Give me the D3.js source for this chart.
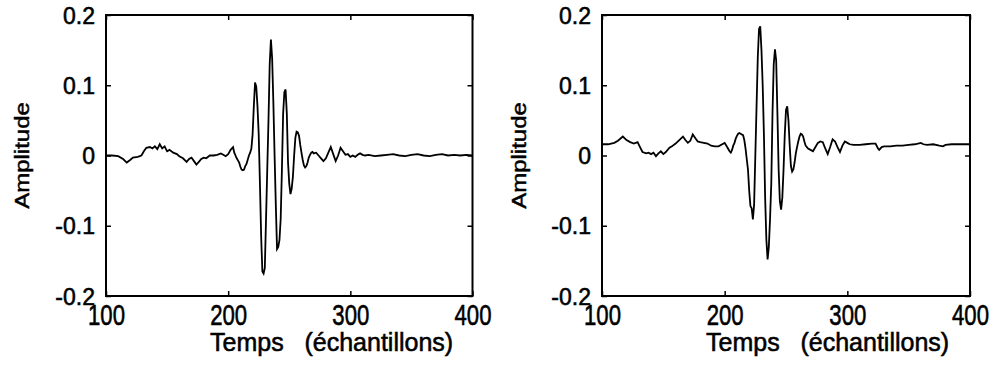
<!DOCTYPE html>
<html>
<head>
<meta charset="utf-8">
<script src="https://cdn.jsdelivr.net/npm/d3@7"></script>
<style>
html,body{margin:0;padding:0;background:#fff;}
svg{display:block;}
text{font-family:"Liberation Sans",Arial,sans-serif;fill:#000;stroke:#000;stroke-width:0.55px;}
</style>
</head>
<body>
<svg id="chart" width="993" height="368"></svg>
<script>
// ---- data ----
const xTicks = [100, 200, 300, 400];
const xTickLabels = ["100", "200", "300", "400"];
const yTicks = [-0.2, -0.1, 0, 0.1, 0.2];
const yTickLabels = ["-0.2", "-0.1", "0", "0.1", "0.2"];
const xLabel = "Temps   (échantillons)";
const yLabel = "Amplitude";

const samplesLeft = [100,105,110,114,117,120,122,126,129,131,133,136,138,140,142,144,146,148,150,152,155,158,160,163,166,168,170,172,174,176,178,180,182,185,188,191,194,196,198,200,202,204,205,206,207,208,209,210,211,212,213,214,215,216,217,218,219,220,221,222,223,224,225,226,227,228,229,230,231,232,233,234,235,236,237,238,239,240,241,242,243,244,245,246,247,248,249,250,251,252,253,254,255,256,257,258,259,260,261,262,263,264,265,266,267,268,269,270,272,274,276,278,280,282,284,286,288,290,292,294,296,298,300,302,304,306,308,310,312,315,320,325,330,335,340,345,350,355,360,365,370,375,380,385,390,395,400];
const ampLeft = [0,0,-0.001,-0.005,-0.01,-0.006,-0.003,-0.002,0,0.006,0.011,0.012,0.01,0.013,0.009,0.016,0.01,0.013,0.006,0.008,0.004,0.002,-0.001,-0.004,-0.009,-0.005,-0.003,-0.008,-0.013,-0.009,-0.005,-0.003,-0.004,0,0,0.001,0.003,0.001,-0.001,0.002,0.008,0.012,0.004,0,-0.004,-0.007,-0.01,-0.016,-0.02,-0.021,-0.02,-0.015,-0.012,-0.006,0,0.004,0.01,0.03,0.07,0.104,0.098,0.07,0.03,-0.04,-0.115,-0.165,-0.168,-0.16,-0.09,-0.02,0.05,0.13,0.165,0.138,0.075,0,-0.07,-0.133,-0.13,-0.12,-0.09,-0.02,0.06,0.09,0.094,0.06,-0.01,-0.04,-0.055,-0.047,-0.03,0,0.025,0.034,0.033,0.028,0.015,0.004,-0.006,-0.014,-0.017,-0.015,-0.01,-0.003,0.001,0.004,0.005,0.003,0.004,0,-0.004,-0.008,-0.004,0.004,0.012,0.002,-0.008,0,0.011,0.006,0.001,0.002,-0.002,0,-0.002,0.001,0.003,0.001,0,0.001,-0.001,0,0.001,0.002,0,-0.001,0.001,0.002,0,-0.001,0.001,0.002,0,0.001,0,0.001,0];

const samplesRight = [100,105,110,113,117,120,123,126,129,131,133,136,138,140,142,144,146,148,150,152,155,157,160,163,166,168,170,172,174,176,178,180,183,186,189,192,195,198,200,202,204,205,206,207,208,209,210,211,212,213,214,215,216,217,218,219,220,221,222,223,224,225,226,227,228,229,230,231,232,233,234,235,236,237,238,239,240,241,242,243,244,245,246,247,248,249,250,251,252,253,254,255,256,257,258,259,260,261,262,263,264,265,266,268,270,272,274,276,278,280,282,284,286,288,290,292,294,296,298,300,302,305,310,315,320,323,325,326,328,330,335,340,345,350,355,360,362,365,370,375,378,380,385,390,395,400];
const ampRight = [0.016,0.016,0.018,0.021,0.027,0.022,0.019,0.017,0.019,0.012,0.005,0.003,0.004,0.002,0.004,-0.001,0.003,0.006,0.002,0.005,0.011,0.013,0.017,0.022,0.027,0.022,0.018,0.021,0.03,0.025,0.02,0.019,0.018,0.017,0.014,0.013,0.013,0.016,0.018,0.012,0.006,0.004,0.008,0.014,0.018,0.024,0.028,0.031,0.032,0.031,0.03,0.029,0.022,0.01,-0.005,-0.02,-0.05,-0.072,-0.075,-0.091,-0.07,0,0.07,0.14,0.18,0.184,0.15,0.1,0.03,-0.06,-0.12,-0.148,-0.13,-0.09,-0.04,0.06,0.13,0.151,0.135,0.06,-0.02,-0.065,-0.077,-0.06,-0.02,0.03,0.065,0.07,0.05,0.015,-0.015,-0.023,-0.02,-0.01,0.003,0.012,0.02,0.027,0.031,0.03,0.027,0.02,0.014,0.01,0.008,0.006,0.012,0.018,0.02,0.019,0.01,0.002,0.012,0.023,0.02,0.012,0.005,0.014,0.02,0.018,0.016,0.015,0.015,0.016,0.017,0.017,0.01,0.008,0.012,0.013,0.013,0.014,0.014,0.015,0.016,0.018,0.016,0.015,0.016,0.014,0.013,0.015,0.016,0.016,0.016,0.016];

// ---- drawing ----
const svg = d3.select("#chart");
svg.append("rect").attr("width", 993).attr("height", 368).attr("fill", "#fff");

const panels = [
  {left: 106, right: 472.5, samples: samplesLeft, amps: ampLeft, ylabX: 22},
  {left: 602, right: 970, samples: samplesRight, amps: ampRight, ylabX: 519}
];
const plotTop = 15, plotBottom = 296;

panels.forEach(p => {
  const x = d3.scaleLinear().domain([100, 400]).range([p.left, p.right]);
  const y = d3.scaleLinear().domain([-0.2, 0.2]).range([plotBottom, plotTop]);
  const g = svg.append("g");

  // signal
  const pts = p.samples.map((s, i) => [s, p.amps[i]]);
  g.append("path")
    .datum(pts)
    .attr("d", d3.line().x(d => x(d[0])).y(d => y(d[1])))
    .attr("fill", "none")
    .attr("stroke", "#000")
    .attr("stroke-width", 1.8)
    .attr("stroke-linejoin", "miter");

  // axes (ticks inward on all four sides)
  const axB = g.append("g").attr("transform", `translate(0,${plotBottom})`)
    .call(d3.axisBottom(x).tickValues(xTicks).tickSizeInner(-5).tickSizeOuter(0)
      .tickFormat((d, i) => xTickLabels[i]));
  const axT = g.append("g").attr("transform", `translate(0,${plotTop})`)
    .call(d3.axisTop(x).tickValues(xTicks).tickSizeInner(-5).tickSizeOuter(0).tickFormat(""));
  const axL = g.append("g").attr("transform", `translate(${p.left},0)`)
    .call(d3.axisLeft(y).tickValues(yTicks).tickSizeInner(-5).tickSizeOuter(0)
      .tickFormat((d, i) => yTickLabels[i]).tickPadding(11));
  const axR = g.append("g").attr("transform", `translate(${p.right},0)`)
    .call(d3.axisRight(y).tickValues(yTicks).tickSizeInner(-5).tickSizeOuter(0).tickFormat(""));

  [axB, axT, axL, axR].forEach(a => {
    a.select(".domain").remove();
    a.selectAll("line").attr("stroke", "#000").attr("stroke-width", 1.5);
  });

  axB.selectAll("text")
    .attr("font-size", 27).attr("font-family", "Liberation Sans, Arial, sans-serif")
    .attr("dy", 0).attr("y", 26)
    .attr("transform", "scale(0.82,1.1)")
    .attr("fill", "#000");
  axL.selectAll("text")
    .attr("font-size", 23).attr("font-family", "Liberation Sans, Arial, sans-serif")
    .attr("dy", 8)
    .attr("fill", "#000");

  // frame
  g.append("rect")
    .attr("x", p.left).attr("y", plotTop)
    .attr("width", p.right - p.left).attr("height", plotBottom - plotTop)
    .attr("fill", "none").attr("stroke", "#000").attr("stroke-width", 2);

  // x label
  g.append("text")
    .attr("x", p.left + 104).attr("y", 351)
    .attr("font-size", 25)
    .style("white-space", "pre")
    .text(xLabel);

  // y label
  g.append("text")
    .attr("transform", `translate(${p.ylabX},${(plotTop + plotBottom) / 2}) rotate(-90) scale(1,0.85)`)
    .attr("text-anchor", "middle")
    .attr("dy", "0.35em")
    .attr("font-size", 24)
    .text(yLabel);
});
</script>
</body>
</html>
